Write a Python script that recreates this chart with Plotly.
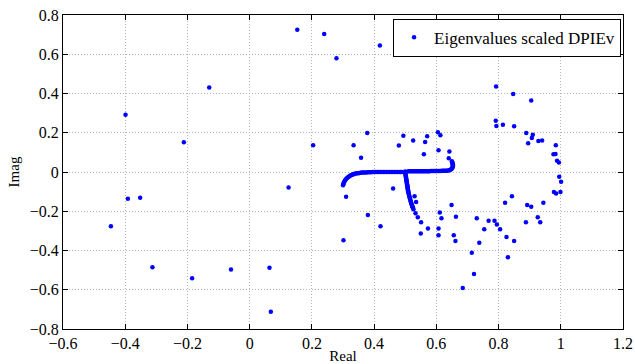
import plotly.graph_objects as go

# Isolated eigenvalues (real, imag)
iso_re = [-0.446, -0.399, -0.3915, -0.352, -0.3125, -0.2115, -0.185, -0.130, -0.060,
          0.0637, 0.068, 0.125, 0.153, 0.204, 0.2395, 0.279, 0.3015, 0.310, 0.334,
          0.358, 0.378, 0.380, 0.4185, 0.4205, 0.461, 0.4795, 0.494, 0.5255, 0.530,
          0.535, 0.533, 0.5405, 0.551, 0.550, 0.560, 0.562, 0.564, 0.5705, 0.573,
          0.605, 0.613, 0.607, 0.607, 0.607, 0.611, 0.6165, 0.640, 0.642, 0.649,
          0.656, 0.6615, 0.663, 0.671, 0.685, 0.714, 0.721, 0.730, 0.738, 0.754,
          0.768, 0.787, 0.791, 0.792, 0.793, 0.7945, 0.805, 0.814, 0.821, 0.8255,
          0.830, 0.843, 0.847, 0.850, 0.850, 0.888, 0.889, 0.892, 0.895, 0.905,
          0.905, 0.907, 0.910, 0.926, 0.928, 0.934, 0.940, 0.944, 0.9765, 0.983,
          0.984, 0.978, 0.985, 0.988, 0.994, 0.995, 0.999, 1.001]
iso_im = [-0.277, 0.292, -0.136, -0.131, -0.485, 0.151, -0.542, 0.430, -0.497,
          -0.488, -0.712, -0.079, 0.725, 0.136, 0.703, 0.580, -0.348, -0.126, 0.136,
          0.072, 0.199, -0.219, 0.644, -0.277, -0.084, 0.1345, 0.185, 0.161, -0.123,
          -0.153, -0.210, -0.230, -0.256, -0.314, 0.090, 0.622, 0.153, 0.182, -0.288,
          0.202, 0.187, 0.111, -0.288, -0.322, -0.207, -0.236, 0.070, 0.104, -0.168,
          -0.322, -0.351, -0.228, 0.613, -0.591, -0.412, -0.520, -0.236, -0.360, -0.292,
          -0.248, -0.248, 0.261, 0.4355, 0.2345, -0.268, -0.292, 0.241, -0.157, -0.331,
          -0.434, -0.123, 0.397, 0.2325, -0.351, -0.256, 0.199, -0.168, 0.146, 0.3645,
          -0.177, 0.1735, 0.190, -0.231, 0.158, -0.256, 0.161, -0.157, 0.090, 0.092,
          0.136, -0.1025, -0.109, 0.057, 0.048, -0.024, -0.1025, -0.050]

# Dense cluster: left horizontal branch
left_re = [0.300, 0.301, 0.302, 0.304, 0.306, 0.308, 0.310, 0.313, 0.316, 0.319,
           0.322, 0.325, 0.328, 0.331, 0.334, 0.337, 0.341, 0.345, 0.349, 0.353,
           0.357, 0.361, 0.365, 0.370, 0.375, 0.380, 0.385, 0.390, 0.395, 0.400,
           0.405, 0.410, 0.415, 0.420, 0.425, 0.430, 0.435, 0.440, 0.445, 0.450,
           0.455, 0.460, 0.465, 0.470, 0.475, 0.480, 0.485, 0.488]
left_im = [-0.068, -0.062, -0.056, -0.050, -0.045, -0.040, -0.036, -0.031, -0.027, -0.023,
           -0.020, -0.017, -0.015, -0.013, -0.011, -0.009, -0.008, -0.007, -0.006, -0.005,
           -0.004, -0.003, -0.003, -0.002, -0.002, -0.001, -0.001, -0.001, 0.000, 0.000,
           0.000, 0.000, 0.000, 0.000, 0.000, 0.000, 0.000, 0.000, 0.000, 0.000,
           0.000, 0.000, 0.000, 0.000, 0.000, 0.000, 0.000, 0.000]

# Dense cluster: descending branch
down_re = [0.4995, 0.500, 0.5005, 0.501, 0.5015, 0.502, 0.5025, 0.503, 0.5035, 0.504,
           0.5045, 0.505, 0.5055, 0.506, 0.5065, 0.507, 0.5075, 0.508, 0.5085, 0.509,
           0.5095, 0.510, 0.511, 0.512, 0.513, 0.514, 0.515, 0.516, 0.517, 0.518,
           0.519, 0.520, 0.521, 0.522, 0.523, 0.524, 0.525, 0.5265]
down_im = [0.003, -0.003, -0.008, -0.013, -0.018, -0.023, -0.028, -0.033, -0.038, -0.043,
           -0.048, -0.053, -0.058, -0.063, -0.068, -0.073, -0.078, -0.083, -0.088, -0.093,
           -0.098, -0.104, -0.110, -0.116, -0.122, -0.128, -0.134, -0.140, -0.146, -0.152,
           -0.157, -0.162, -0.167, -0.172, -0.176, -0.180, -0.184, -0.190]

# Dense cluster: right horizontal branch with curl
right_re = [0.510, 0.514, 0.518, 0.522, 0.526, 0.530, 0.534, 0.538, 0.542, 0.546,
            0.550, 0.554, 0.558, 0.562, 0.566, 0.570, 0.574, 0.578, 0.582, 0.586,
            0.590, 0.594, 0.598, 0.602, 0.606, 0.610, 0.614, 0.618, 0.622, 0.626,
            0.630, 0.634, 0.638, 0.642, 0.645, 0.648, 0.650, 0.652, 0.653, 0.653,
            0.653, 0.652, 0.651, 0.650]
right_im = [0.004, 0.004, 0.004, 0.004, 0.004, 0.004, 0.004, 0.004, 0.004, 0.004,
            0.004, 0.004, 0.004, 0.004, 0.004, 0.004, 0.004, 0.004, 0.005, 0.005,
            0.005, 0.005, 0.005, 0.005, 0.005, 0.005, 0.005, 0.006, 0.006, 0.006,
            0.006, 0.007, 0.008, 0.009, 0.011, 0.014, 0.018, 0.023, 0.028, 0.034,
            0.040, 0.045, 0.050, 0.055]

all_re = iso_re + left_re + down_re + right_re
all_im = iso_im + left_im + down_im + right_im

FONT = "Liberation Serif, Times New Roman, DejaVu Serif, serif"

fig = go.Figure()
fig.add_trace(go.Scatter(
    x=all_re, y=all_im, mode="markers",
    marker=dict(color="#0000ff", size=4.5, line=dict(width=0)),
    name="Eigenvalues scaled DPIEv",
))

axis_common = dict(
    showline=True, linecolor="black", linewidth=1, mirror="ticks",
    ticks="inside", ticklen=5, tickcolor="black", tickwidth=1,
    showgrid=True, gridcolor="#b4b4b4", griddash="1px,2px", gridwidth=1,
    zeroline=False, dtick=0.2, automargin=False,
    tickfont=dict(family=FONT, size=16, color="black"),
)

fig.update_layout(
    width=635, height=364,
    margin=dict(l=63, r=12, t=15, b=35),
    paper_bgcolor="white", plot_bgcolor="white",
    font=dict(family=FONT, color="black"),
    xaxis=dict(range=[-0.6, 1.2], tick0=-0.6,
               title=dict(text="Real", font=dict(family=FONT, size=15), standoff=0),
               **axis_common),
    yaxis=dict(range=[-0.8, 0.8], tick0=-0.8,
               title=dict(text="Imag", font=dict(family=FONT, size=15), standoff=6),
               **axis_common),
    showlegend=True,
    legend=dict(x=0.9965, y=0.988, xanchor="right", yanchor="top",
                bgcolor="white", bordercolor="black", borderwidth=1,
                font=dict(family=FONT, size=17, color="black"),
                itemwidth=30, tracegroupgap=0),
)

fig.write_html("out.html")
